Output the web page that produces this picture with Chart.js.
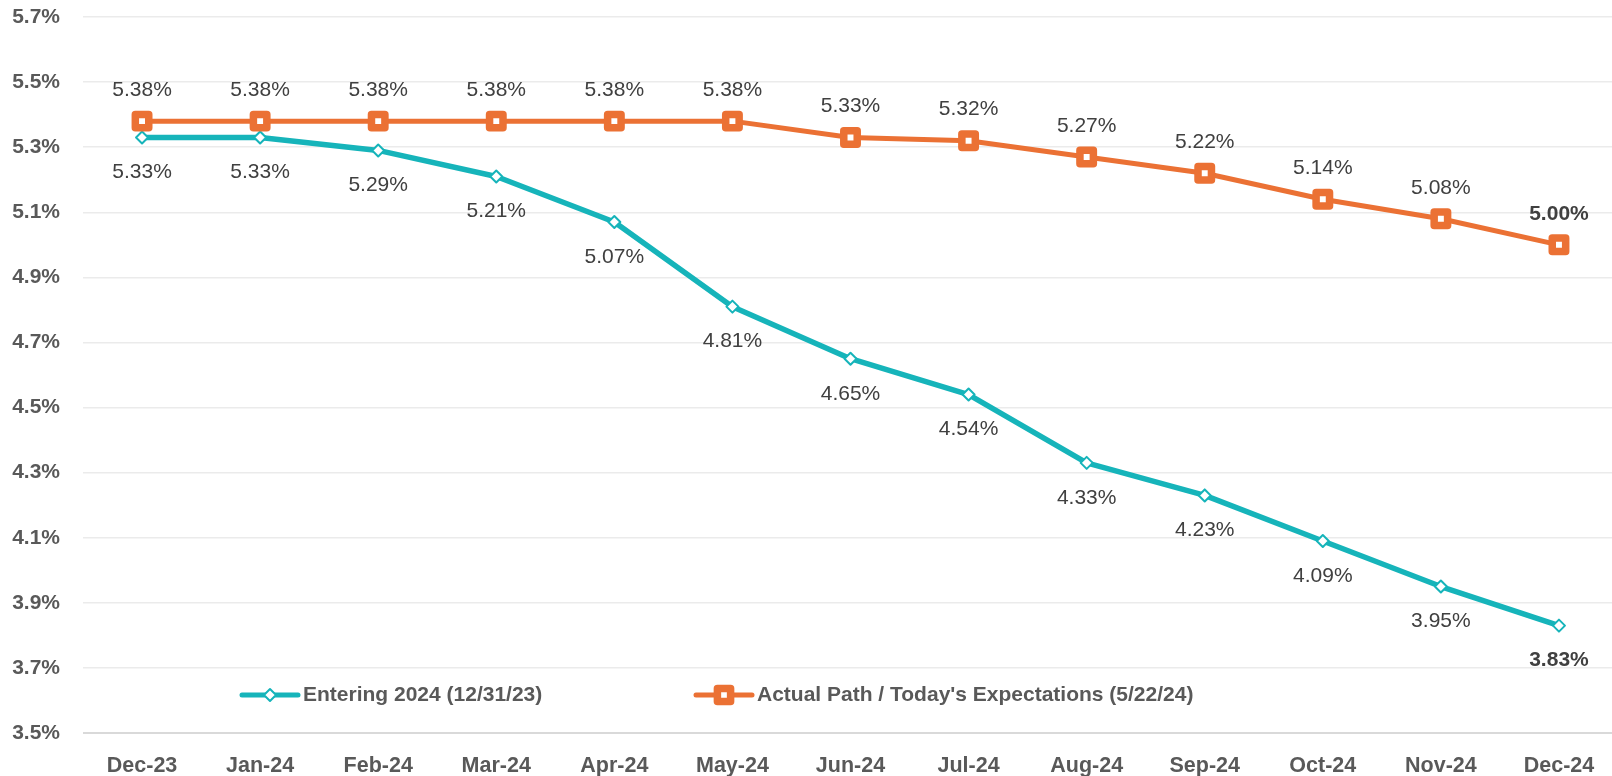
<!DOCTYPE html>
<html>
<head>
<meta charset="utf-8">
<script src="https://cdn.jsdelivr.net/npm/chart.js@4.4.1/dist/chart.umd.min.js"></script>
<style>
  html, body { margin: 0; padding: 0; background: #ffffff; overflow: hidden; }
  #wrap { width: 1612px; height: 776px; }
  canvas { display: block; }
</style>
</head>
<body>
<div id="wrap"><canvas id="rateChart" width="1612" height="776"></canvas></div>
<script>
// Données
const months = ["Dec-23", "Jan-24", "Feb-24", "Mar-24", "Apr-24", "May-24", "Jun-24",
                "Jul-24", "Aug-24", "Sep-24", "Oct-24", "Nov-24", "Dec-24"];
const entering2024 = [5.33, 5.33, 5.29, 5.21, 5.07, 4.81, 4.65, 4.54, 4.33, 4.23, 4.09, 3.95, 3.83];
const actualPath = [5.38, 5.38, 5.38, 5.38, 5.38, 5.38, 5.33, 5.32, 5.27, 5.22, 5.14, 5.08, 5.00];
const seriesNames = ["Entering 2024 (12/31/23)", "Actual Path / Today's Expectations (5/22/24)"];
const yMin = 3.5, yMax = 5.7, yStep = 0.2;

const TEAL = "#16b4ba";
const ORANGE = "#eb7134";
const LABEL_COLOR = "#404040";
const AXIS_COLOR = "#595959";
const FONT = "'Liberation Sans', Arial, sans-serif";

// Zone du graphique jusqu'au bord droit (un peu au-delà, comme l'original)
const fullWidth = {
    id: "fullWidth",
    afterLayout(chart) {
        const extra = chart.width + 6 - chart.chartArea.right;
        if (extra <= 0) return;
        chart.chartArea.right += extra;
        chart.chartArea.width += extra;
        const x = chart.scales.x;
        x.right += extra;
        x.width += extra;
        x.configure();
    },
};

// Étiquettes de valeurs
const valueLabels = {
    id: "valueLabels",
    afterDatasetsDraw(chart) {
        const ctx = chart.ctx;
        ctx.save();
        ctx.textAlign = "center";
        ctx.textBaseline = "middle";
        ctx.fillStyle = LABEL_COLOR;
        chart.data.datasets.forEach((ds, i) => {
            const meta = chart.getDatasetMeta(i);
            const below = ds.labelPos === "below";
            meta.data.forEach((pt, j) => {
                const last = j === meta.data.length - 1;
                ctx.font = (last ? "bold " : "") + "21px " + FONT;
                const y = below ? pt.y + 35 : pt.y - 31;
                ctx.fillText(ds.data[j].toFixed(2) + "%", pt.x, y);
            });
        });
        ctx.restore();
    },
};

// Légende dans la zone du graphique
const innerLegend = {
    id: "innerLegend",
    beforeDatasetsDraw(chart) {
        chart.ctx.lineJoin = "round";
    },
    afterDraw(chart) {
        const ctx = chart.ctx;
        const y = chart.chartArea.bottom - 38;
        const items = [
            { x0: 242, x1: 298, text: seriesNames[0], color: TEAL, style: "diamond" },
            { x0: 696, x1: 752, text: seriesNames[1], color: ORANGE, style: "square" },
        ];
        ctx.save();
        items.forEach((it) => {
            ctx.strokeStyle = it.color;
            ctx.lineWidth = 5;
            ctx.lineCap = "round";
            ctx.beginPath();
            ctx.moveTo(it.x0, y);
            ctx.lineTo(it.x1, y);
            ctx.stroke();
            const cx = (it.x0 + it.x1) / 2;
            ctx.fillStyle = "#ffffff";
            ctx.lineJoin = "round";
            ctx.beginPath();
            if (it.style === "diamond") {
                ctx.lineWidth = 2;
                ctx.moveTo(cx - 6, y);
                ctx.lineTo(cx, y - 6);
                ctx.lineTo(cx + 6, y);
                ctx.lineTo(cx, y + 6);
                ctx.closePath();
            } else {
                ctx.lineWidth = 7.5;
                ctx.rect(cx - 6.6, y - 6.6, 13.2, 13.2);
            }
            ctx.fill();
            ctx.stroke();
            ctx.fillStyle = AXIS_COLOR;
            ctx.font = "bold 21px " + FONT;
            ctx.textAlign = "left";
            ctx.textBaseline = "middle";
            ctx.fillText(it.text, it.x1 + 5, y);
        });
        ctx.restore();
    },
};

const ctx = document.getElementById("rateChart").getContext("2d");
new Chart(ctx, {
    type: "line",
    data: {
        labels: months,
        datasets: [
            {
                label: seriesNames[0],
                data: entering2024,
                borderColor: TEAL,
                borderWidth: 5.5,
                backgroundColor: "#ffffff",
                pointStyle: "rectRot",
                pointRadius: 6,
                pointBorderWidth: 2,
                pointBorderColor: TEAL,
                pointBackgroundColor: "#ffffff",
                tension: 0,
                order: 1,
                labelPos: "below",
            },
            {
                label: seriesNames[1],
                data: actualPath,
                borderColor: ORANGE,
                borderWidth: 5,
                backgroundColor: "#ffffff",
                pointStyle: "rect",
                pointRadius: 9.5,
                pointBorderWidth: 7.5,
                pointBorderColor: ORANGE,
                pointBackgroundColor: "#ffffff",
                tension: 0,
                order: 0,
                labelPos: "above",
            },
        ],
    },
    options: {
        responsive: false,
        animation: false,
        devicePixelRatio: 1,
        layout: { padding: { top: 15, left: 0, right: 0, bottom: 0 } },
        plugins: {
            legend: { display: false },
            tooltip: { enabled: false },
        },
        elements: { line: { borderJoinStyle: "round", borderCapStyle: "round" } },
        scales: {
            x: {
                offset: true,
                grid: { display: false, drawTicks: false },
                border: { display: false },
                ticks: {
                    color: AXIS_COLOR,
                    font: { family: FONT, size: 21.5, weight: "bold", lineHeight: 2.8 },
                    padding: 3,
                    maxRotation: 0,
                    autoSkip: false,
                },
                afterFit(scale) {
                    scale.height = 43;
                    scale.paddingLeft = 0;
                    scale.paddingRight = 0;
                },
            },
            y: {
                min: yMin,
                max: yMax,
                border: { display: false },
                grid: {
                    drawTicks: false,
                    color: (c) => (c.tick && Math.abs(c.tick.value - yMin) < 1e-6 ? "#d9d9d9" : "#ebebeb"),
                    lineWidth: (c) => (c.tick && Math.abs(c.tick.value - yMin) < 1e-6 ? 2 : 1.5),
                },
                ticks: {
                    stepSize: yStep,
                    color: AXIS_COLOR,
                    font: { family: FONT, size: 21, weight: "bold" },
                    padding: 23,
                    callback: (v) => Number(v).toFixed(1) + "%",
                },
                afterFit(scale) {
                    scale.width = 83;
                    scale.paddingTop = 0;
                    scale.paddingBottom = 0;
                },
            },
        },
    },
    plugins: [fullWidth, valueLabels, innerLegend],
});
</script>
</body>
</html>
